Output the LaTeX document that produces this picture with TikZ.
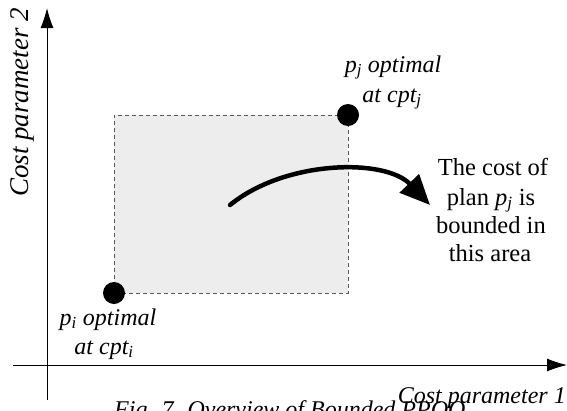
\documentclass[tikz,border=0pt]{standalone}
\usepackage{fontspec}
\setmainfont{Liberation Serif}
\usetikzlibrary{arrows.meta}
\begin{document}
\begin{tikzpicture}[x=1pt,y=-1pt,
  lbl/.style={font=\fontsize{24}{28}\selectfont\itshape, inner sep=0pt, anchor=base},
  rtxt/.style={font=\fontsize{24.5}{28}\selectfont, inner sep=0pt, anchor=base},
  axis/.style={line width=0.9pt, -{Latex[length=20pt,width=13pt]}},
  dot/.style={circle, fill=black, minimum size=22pt, inner sep=0pt},
]
\clip (0,0) rectangle (567,410);
\fill[white] (0,0) rectangle (567,410);
% area
\coordinate (ll) at (114,293);
\coordinate (ur) at (348,115);
\draw[fill={rgb,255:red,237;green,237;blue,237}, draw=gray!70!black, dash pattern=on 4pt off 3pt, line width=0.7pt] (ll) rectangle (ur);
% axes
\coordinate (v0) at (47,400);
\coordinate (v1) at (47,8);
\coordinate (h0) at (13,365);
\coordinate (h1) at (567,365);
\draw[axis] (v0) -- (v1);
\draw[axis] (h0) -- (h1);
% dots
\node[dot] (pi) at (ll) {};
\node[dot] (pj) at (ur) {};
% curved arrow
\coordinate (cs) at (230,205);
\coordinate (ce) at (430,205);
\draw[line width=4.5pt, line cap=round, -{Triangle[length=30pt,width=26pt]}] (cs) .. controls (285,160) and (385,158) .. (ce);
% labels
\node[lbl] (pil1) at (108,325) {p\textsubscript{i} optimal};
\node[lbl] (pil2) at (104,354) {at cpt\textsubscript{i}};
\node[lbl] (pjl1) at (393,72) {p\textsubscript{j} optimal};
\node[lbl] (pjl2) at (392,102) {at cpt\textsubscript{j}};
\node[rtxt] (t1) at (493,175) {The cost of};
\node[rtxt] (t2) at (491,205) {plan {\itshape p}\textsubscript{\itshape j} is};
\node[rtxt] (t3) at (491,233) {bounded in};
\node[rtxt] (t4) at (490,261) {this area};
% axis labels
\node[lbl, font=\fontsize{27}{30}\selectfont\itshape, anchor=base west, rotate=90] (ay) at (28,197) {Cost parameter 2};
\node[lbl, anchor=base east] (ax) at (566,403) {Cost parameter 1};
% caption
\node[font=\fontsize{24}{28}\selectfont\itshape, inner sep=0pt, anchor=base west] (cap) at (114,417) {Fig. 7. Overview of Bounded PPQO};
\end{tikzpicture}
\end{document}
